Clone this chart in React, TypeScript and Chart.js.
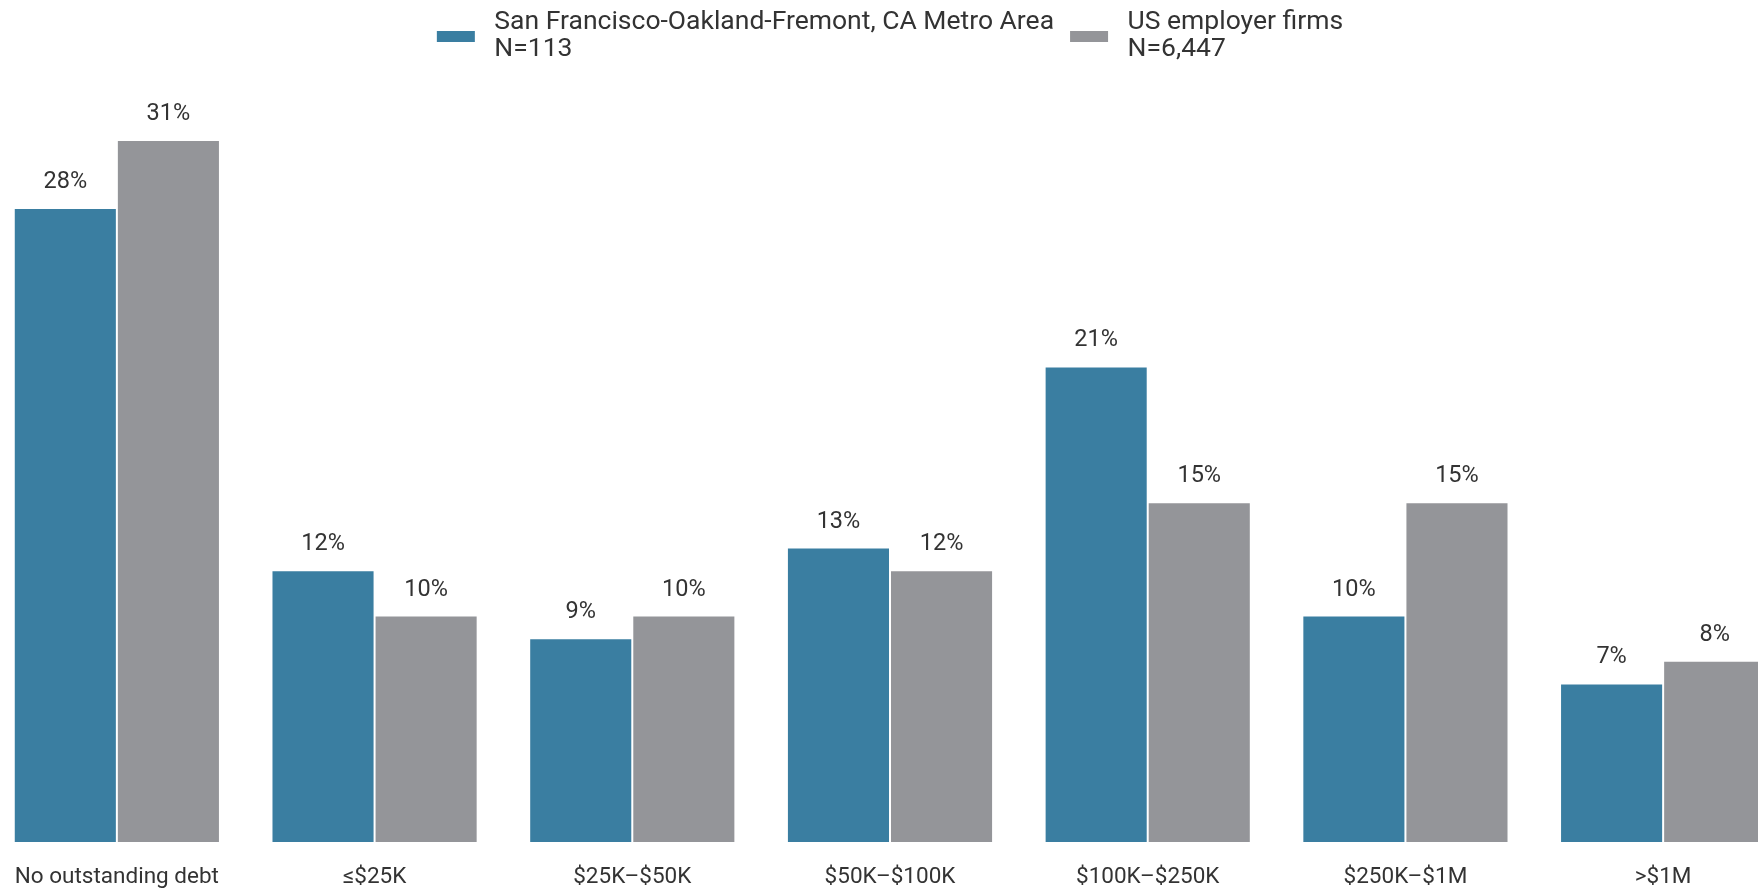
import React, { useEffect, useRef } from "react";
import { Chart, registerables } from "chart.js";

Chart.register(...registerables);

const categories = [
  "No outstanding debt",
  "≤$25K",
  "$25K–$50K",
  "$50K–$100K",
  "$100K–$250K",
  "$250K–$1M",
  ">$1M",
];
const sfValues = [28, 12, 9, 13, 21, 10, 7];
const usValues = [31, 10, 10, 12, 15, 15, 8];
const seriesNames = ["San Francisco-Oakland-Fremont, CA Metro Area", "US employer firms"];
const seriesNotes = ["N=113", "N=6,447"];
const seriesColors = ["#3a7ea1", "#949599"];

const FONT = "Roboto";
const TEXT_COLOR = "#333333";

const valueLabelPlugin = {
  id: "valueLabels",
  afterDatasetsDraw(chart: any) {
    const ctx = chart.ctx;
    ctx.save();
    ctx.font = `23.5px ${FONT}`;
    ctx.fillStyle = TEXT_COLOR;
    ctx.textAlign = "center";
    ctx.textBaseline = "alphabetic";
    chart.data.datasets.forEach((ds: any, di: number) => {
      const meta = chart.getDatasetMeta(di);
      meta.data.forEach((el: any, i: number) => {
        ctx.fillText(`${ds.data[i]}%`, el.x, el.y - 20);
      });
    });
    ctx.restore();
  },
};

const legendPlugin = {
  id: "twoLineLegend",
  afterDraw(chart: any) {
    const ctx = chart.ctx;
    ctx.save();
    ctx.font = `26.5px ${FONT}`;
    const boxW = 38;
    const boxH = 11;
    const gap = 19.5;
    const spacing = 16;
    const widths = chart.data.datasets.map((ds: any, i: number) =>
      Math.max(ctx.measureText(seriesNames[i]).width, ctx.measureText(seriesNotes[i]).width)
    );
    const total =
      widths.reduce((a: number, w: number) => a + boxW + gap + w, 0) + spacing * (widths.length - 1);
    let x = chart.width / 2 - total / 2;
    chart.data.datasets.forEach((ds: any, i: number) => {
      ctx.fillStyle = ds.backgroundColor;
      ctx.fillRect(x, 31, boxW, boxH);
      ctx.fillStyle = TEXT_COLOR;
      ctx.textAlign = "left";
      ctx.textBaseline = "alphabetic";
      ctx.fillText(seriesNames[i], x + boxW + gap, 29);
      ctx.fillText(seriesNotes[i], x + boxW + gap, 55.5);
      x += boxW + gap + widths[i] + spacing;
    });
    ctx.restore();
  },
};

export default function App() {
  const ref = useRef<HTMLCanvasElement | null>(null);
  useEffect(() => {
    if (!ref.current) return;
    const chart = new Chart(ref.current, {
      type: "bar",
      data: {
        labels: categories,
        datasets: [
          {
            label: seriesNames[0],
            data: sfValues,
            backgroundColor: seriesColors[0],
            borderColor: "#ffffff",
            borderWidth: 1,
            borderSkipped: "bottom",
            categoryPercentage: 0.8,
            barPercentage: 1,
          },
          {
            label: seriesNames[1],
            data: usValues,
            backgroundColor: seriesColors[1],
            borderColor: "#ffffff",
            borderWidth: 1,
            borderSkipped: "bottom",
            categoryPercentage: 0.8,
            barPercentage: 1,
          },
        ],
      },
      options: {
        animation: false,
        responsive: true,
        maintainAspectRatio: false,
        layout: { padding: { top: 72, bottom: 0, left: 0, right: 0 } },
        plugins: {
          legend: { display: false },
          tooltip: { enabled: false },
        },
        scales: {
          x: {
            grid: { display: false, drawTicks: false },
            border: { display: false },
            ticks: {
              color: TEXT_COLOR,
              font: { family: FONT, size: 22.5 },
              padding: 22,
              maxRotation: 0,
              autoSkip: false,
            },
          },
          y: {
            display: false,
            min: 0,
            max: 34,
          },
        },
      },
      plugins: [valueLabelPlugin, legendPlugin],
    });
    return () => chart.destroy();
  }, []);

  return (
    <div style={{ position: "fixed", left: 0, top: 0, width: "100vw", height: "100vh", overflow: "hidden", background: "#fff" }}>
      <div style={{ position: "absolute", left: -12, top: 0, width: 1804, height: 913 }}>
        <canvas ref={ref} />
      </div>
    </div>
  );
}
